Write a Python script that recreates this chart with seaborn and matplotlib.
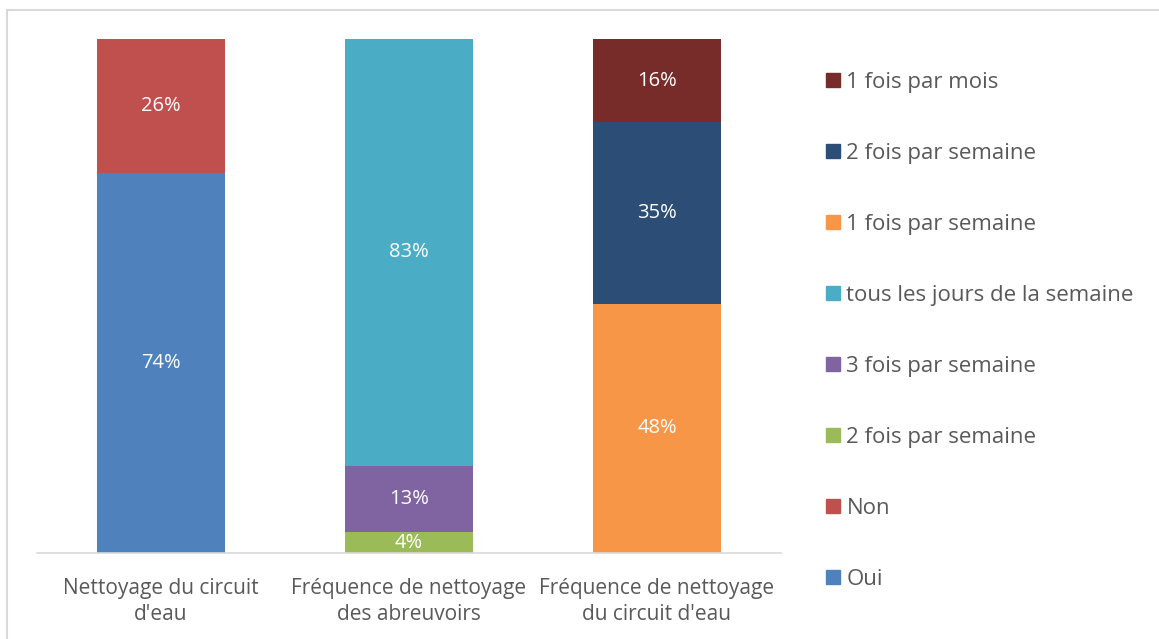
import matplotlib
matplotlib.use("Agg")
import matplotlib.pyplot as plt
import matplotlib.patches as mpatches
import seaborn as sns
import pandas as pd

# ----------------------
# Data
# ----------------------
categories = [
    "Nettoyage du circuit\nd'eau",
    "Fréquence de nettoyage\ndes abreuvoirs",
    "Fréquence de nettoyage\ndu circuit d'eau",
]
# series in stacking order (bottom -> top)
series_names = [
    "Oui",
    "Non",
    "2 fois par semaine",
    "3 fois par semaine",
    "tous les jours de la semaine",
    "1 fois par semaine",
    "2 fois par semaine",
    "1 fois par mois",
]
series_values = [
    [74, 0, 0],
    [26, 0, 0],
    [0, 4, 0],
    [0, 13, 0],
    [0, 83, 0],
    [0, 0, 48],
    [0, 0, 35],
    [0, 0, 16],
]
series_colors = [
    "#4F81BD", "#C0504D", "#9BBB59", "#8064A2",
    "#4BACC6", "#F79646", "#2C4D75", "#772C2A",
]

df = pd.DataFrame(series_values, columns=categories).T
df.columns = range(len(series_names))
# 100% stacked: each bar fills the full height
shares = df.div(df.sum(axis=1), axis=0) * 100

# ----------------------
# Figure
# ----------------------
sns.set_theme(style="white")
plt.rcParams["font.family"] = ["Open Sans", "DejaVu Sans"]
text_color = "#595959"

fig = plt.figure(figsize=(11.59, 6.39), dpi=100)
ax = fig.add_axes([37 / 1159, 1 - 553 / 639, (781 - 37) / 1159, (553 - 39) / 639])

x = list(range(len(categories)))
bottom = [0.0] * len(categories)
for i, name in enumerate(series_names):
    h = shares[i].values
    bars = ax.bar(x, h, bottom=bottom, width=0.516, color=series_colors[i], linewidth=0)
    for j, b in enumerate(bars):
        if series_values[i][j] > 0:
            ax.text(b.get_x() + b.get_width() / 2, bottom[j] + h[j] / 2,
                    f"{series_values[i][j]}%", ha="center", va="center",
                    color="white", fontsize=14.5)
    bottom = [bottom[k] + h[k] for k in range(len(bottom))]

ax.set_xlim(-0.5, 2.5)
ax.set_ylim(0, 100)
ax.set_yticks([])
ax.set_xticks(x)
ax.set_xticklabels(categories, color=text_color, fontsize=15, linespacing=1.3)
ax.tick_params(axis="x", length=0, pad=18)
sns.despine(ax=ax, left=True)
ax.spines["bottom"].set_color("#D9D9D9")
ax.spines["bottom"].set_linewidth(1.2)

handles = [mpatches.Patch(color=c, label=n) for n, c in zip(series_names, series_colors)]
leg = fig.legend(handles[::-1], series_names[::-1], loc="upper left",
                 bbox_to_anchor=(806 / 1159, 1 - 52 / 639), frameon=False,
                 fontsize=16, labelspacing=2.25, handlelength=0.62,
                 handleheight=0.62, handletextpad=0.3, labelcolor=text_color)

# chart border
fig.patches.append(mpatches.Rectangle((6.5 / 1159, -0.1), 1.2, 1 - 9.5 / 639 + 0.1,
                                      transform=fig.transFigure, fill=False,
                                      edgecolor="#D9D9D9", linewidth=1.5))

fig.savefig("out.png", dpi=100)
